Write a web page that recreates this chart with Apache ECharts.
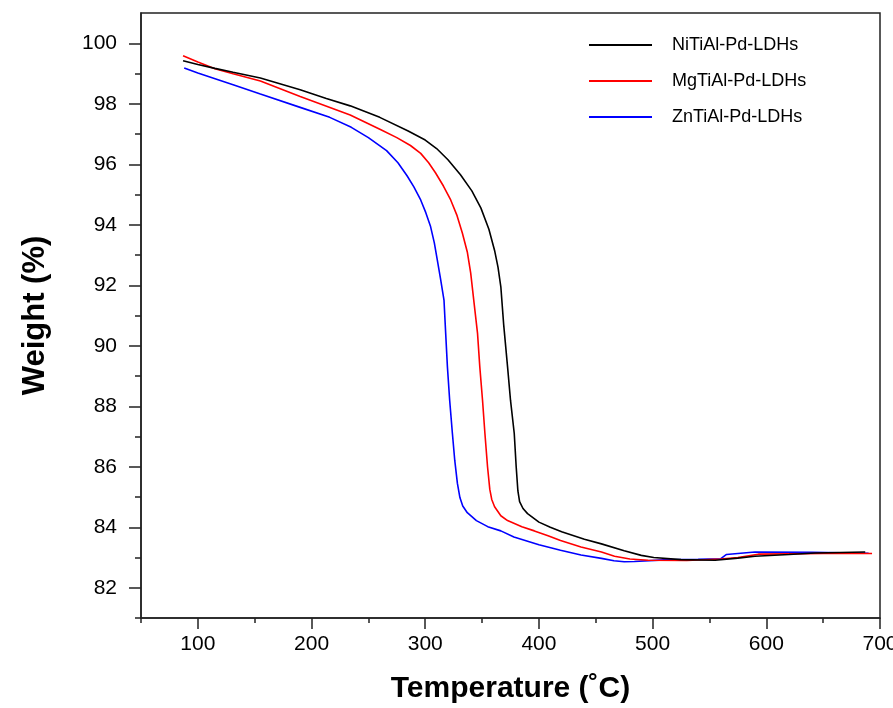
<!DOCTYPE html>
<html>
<head>
<meta charset="utf-8">
<script src="https://cdn.jsdelivr.net/npm/echarts@6/dist/echarts.min.js"></script>
<style>html,body{margin:0;padding:0;background:#fff}#c{width:893px;height:708px}</style>
</head>
<body>
<div id="c"></div>
<script>
const seriesNames = ['NiTiAl-Pd-LDHs', 'MgTiAl-Pd-LDHs', 'ZnTiAl-Pd-LDHs'];
const niData = [[87,99.42],[100,99.30],[115,99.17],[131,99.04],[155,98.85],[190,98.46],[213,98.17],[234,97.93],[260,97.55],[285,97.10],[300,96.80],[310,96.52],[320,96.15],[331,95.65],[341,95.12],[349,94.55],[356,93.85],[361,93.15],[364,92.60],[366.5,91.95],[369,90.70],[372.4,89.31],[375,88.20],[378.3,87.10],[380,86.00],[381.5,85.20],[383,84.85],[386,84.62],[390,84.45],[400,84.17],[410,84.00],[420,83.85],[440,83.60],[455,83.45],[475,83.22],[490,83.07],[501,83.00],[525,82.93],[555,82.91],[575,82.98],[590,83.04],[620,83.10],[643,83.15],[687,83.18]];
const mgData = [[87,99.59],[100,99.38],[115,99.16],[131,98.99],[155,98.75],[190,98.24],[234,97.63],[261,97.14],[275,96.88],[287,96.62],[296,96.36],[303,96.05],[309,95.72],[316,95.28],[322.4,94.82],[328,94.30],[332.7,93.72],[337,93.10],[340,92.40],[343,91.40],[346,90.41],[348,89.30],[350.4,88.20],[352.5,87.10],[354.8,86.00],[356.8,85.25],[358.5,84.92],[361,84.68],[366.5,84.38],[372.4,84.22],[385,84.02],[396,83.88],[408,83.72],[419,83.56],[437,83.35],[455,83.18],[466.5,83.04],[480,82.95],[496,82.91],[530,82.90],[560,82.95],[575,83.00],[593,83.11],[650,83.13],[693,83.13]];
const znData = [[88,99.18],[100,99.02],[131,98.63],[155,98.32],[190,97.88],[216,97.55],[235,97.22],[250,96.88],[266,96.45],[276,96.05],[284,95.62],[290,95.25],[296,94.82],[300.5,94.40],[304.7,93.94],[308,93.40],[310.6,92.84],[313.5,92.20],[316.5,91.51],[318,90.40],[319.5,89.31],[321.5,88.20],[323.9,87.10],[326,86.20],[328.3,85.45],[330.5,84.98],[333,84.70],[337,84.48],[345,84.22],[355,84.02],[366.5,83.88],[378,83.68],[400,83.42],[419,83.24],[437,83.08],[455,82.97],[466,82.89],[475,82.86],[484,82.87],[510,82.92],[540,82.94],[560,82.96],[565,83.10],[590,83.18],[640,83.17],[690,83.14]];
const xMajor = [100,200,300,400,500,600,700];
const xMinor = [50,150,250,350,450,550,650];
const yMajor = [82,84,86,88,90,92,94,96,98,100];
const yMinor = [81,83,85,87,89,91,93,95,97,99];
const colors = ['#000000', '#ff0000', '#0000ff'];

const FONT = "'Liberation Sans', Arial, sans-serif";
const axisColor = '#222';
const chart = echarts.init(document.getElementById('c'), null, {renderer: 'canvas'});
const option = {
  animation: false,
  backgroundColor: '#fff',
  grid: {left: 141, right: 13, top: 13, bottom: 90, show: true, borderColor: axisColor, borderWidth: 1.5,
         backgroundColor: 'transparent', containLabel: false, outerBoundsMode: 'none'},
  legend: {
    orient: 'vertical', left: 584, top: 31,
    itemWidth: 63, itemHeight: 2, itemGap: 18, icon: 'rect',
    textStyle: {fontFamily: FONT, fontSize: 18, color: '#000', padding: [0,0,0,15]},
    data: seriesNames
  },
  xAxis: [
    {type: 'value', min: 50, max: 700, gridIndex: 0, position: 'bottom',
     axisLine: {show: true, lineStyle: {color: axisColor, width: 1.5}},
     axisTick: {show: true, customValues: xMajor, length: 11, lineStyle: {color: axisColor, width: 1.5}},
     axisLabel: {customValues: xMajor, fontFamily: FONT, fontSize: 21, color: '#000', margin: 16},
     splitLine: {show: false},
     name: 'Temperature (˚C)', nameLocation: 'middle', nameGap: 56,
     nameTextStyle: {fontFamily: FONT, fontSize: 30, fontWeight: 'bold', color: '#000'}},
    {type: 'value', min: 50, max: 700, gridIndex: 0, position: 'bottom',
     axisLine: {show: false},
     axisTick: {show: true, customValues: xMinor, length: 5, lineStyle: {color: axisColor, width: 1.5}},
     axisLabel: {show: false}, splitLine: {show: false}}
  ],
  yAxis: [
    {type: 'value', min: 81, max: 101, gridIndex: 0, position: 'left',
     axisLine: {show: true, lineStyle: {color: axisColor, width: 1.5}},
     axisTick: {show: true, customValues: yMajor, length: 12, lineStyle: {color: axisColor, width: 1.5}},
     axisLabel: {customValues: yMajor, fontFamily: FONT, fontSize: 21, color: '#000', margin: 24},
     splitLine: {show: false},
     name: 'Weight (%)', nameLocation: 'middle', nameGap: 90,
     nameTextStyle: {fontFamily: FONT, fontSize: 31, fontWeight: 'bold', color: '#000'}},
    {type: 'value', min: 81, max: 101, gridIndex: 0, position: 'left',
     axisLine: {show: false},
     axisTick: {show: true, customValues: yMinor, length: 6, lineStyle: {color: axisColor, width: 1.5}},
     axisLabel: {show: false}, splitLine: {show: false}}
  ],
  series: [niData, mgData, znData].map((d, i) => ({
    name: seriesNames[i], type: 'line', data: d,
    xAxisIndex: 0, yAxisIndex: 0,
    showSymbol: false, symbol: 'none',
    smooth: false,
    lineStyle: {color: colors[i], width: 1.6},
    itemStyle: {color: colors[i]},
    z: 3 - i
  }))
};
chart.setOption(option);
</script>
</body>
</html>
